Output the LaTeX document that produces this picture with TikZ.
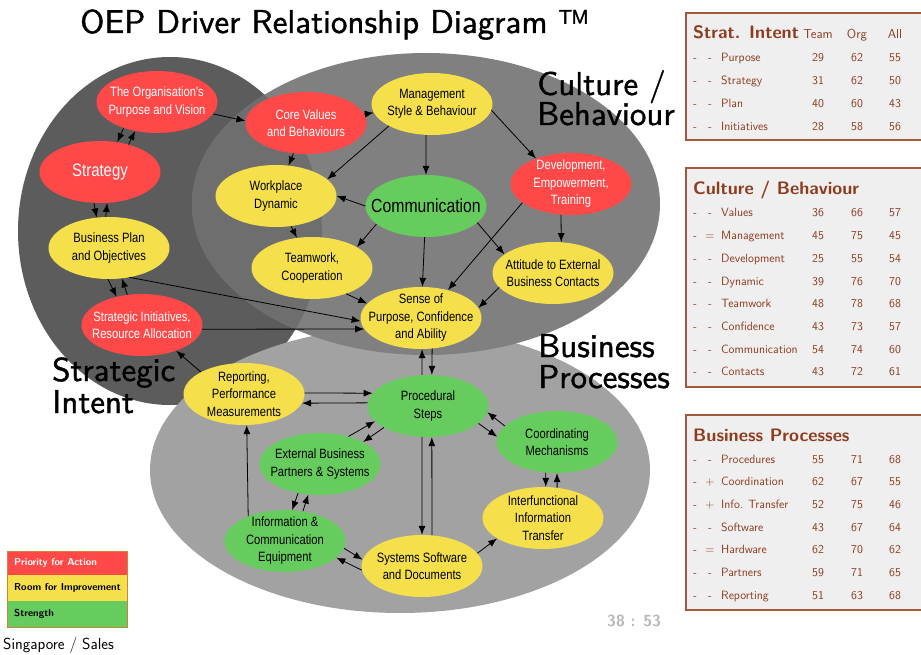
\documentclass[tikz,border=0pt]{standalone}
\usepackage{fontspec}
\newfontfamily\nodefont{Liberation Sans}[FakeStretch=0.83]
\newfontfamily\headfont{lmsans10-regular.otf}[FakeBold=1.2]
\usetikzlibrary{arrows.meta,shapes.geometric,positioning}

\definecolor{prioRed}{HTML}{FF4848}
\definecolor{roomYellow}{HTML}{F5E04C}
\definecolor{strongGreen}{HTML}{66CC5E}
\definecolor{intentGray}{HTML}{5C5C5C}
\definecolor{cultureGray}{HTML}{808080}
\definecolor{mixGray}{HTML}{6E6E6E}
\definecolor{processGray}{HTML}{A2A2A2}
\definecolor{tabBrown}{HTML}{8E3B1E}
\definecolor{tabLine}{HTML}{A3593B}
\definecolor{tabFill}{HTML}{EFEFEF}
\definecolor{legLine}{HTML}{C8863C}

\begin{document}
\begin{tikzpicture}[x=1pt,y=-1pt,
    driver/.style={ellipse,minimum width=121pt,minimum height=62pt,
      inner xsep=-20pt,inner ysep=-4pt,align=center,
      font=\nodefont\fontsize{13.5}{17.5}\selectfont},
    prio/.style={driver,fill=prioRed,text=white},
    room/.style={driver,fill=roomYellow},
    strong/.style={driver,fill=strongGreen},
    >={Latex[length=9pt,width=7pt]},
    link/.style={->,line width=0.8pt},
    zone/.style={anchor=base west,inner sep=0pt,font=\headfont\fontsize{33}{33}\selectfont},
    panel/.style={draw=tabLine,line width=1.2pt,fill=tabFill},
    tabhead/.style={anchor=base west,inner sep=0pt,text=tabBrown,font=\sffamily\bfseries\fontsize{18}{20}\selectfont},
    tabcell/.style={anchor=base,inner sep=0pt,text=tabBrown,font=\sffamily\fontsize{12}{14}\selectfont},
    tabname/.style={tabcell,anchor=base west},
    legtext/.style={anchor=west,inner sep=0pt,font=\sffamily\bfseries\fontsize{10}{12}\selectfont}]

    \useasboundingbox (0,0) rectangle (921,655);
    \fill[white] (0,0) rectangle (921,655);

    % the three areas
    \fill[intentGray] (170,231) ellipse [x radius=152pt,y radius=174pt];
    \fill[processGray] (400,470) ellipse [x radius=250pt,y radius=143pt];
    \fill[cultureGray] (426,204) ellipse [x radius=234pt,y radius=151pt];
    \begin{scope}
        \clip (426,204) ellipse [x radius=234pt,y radius=151pt];
        \fill[mixGray] (170,231) ellipse [x radius=152pt,y radius=174pt];
    \end{scope}

    \node[zone] (title) at (80,33) {OEP Driver Relationship Diagram \texttrademark};
    \node[zone] (cultureA) at (537,95) {Culture /};
    \node[zone] (cultureB) at (537,125) {Behaviour};
    \node[zone] (businessA) at (538,357) {Business};
    \node[zone] (businessB) at (538,388) {Processes};
    \node[zone] (intentA) at (52,381) {Strategic};
    \node[zone] (intentB) at (52,413) {Intent};

    % drivers
    \node[prio] (purpose) at (157,102) {The Organisation's\\Purpose and Vision};
    \node[prio,font=\nodefont\fontsize{18}{20}\selectfont] (strategy) at (100,172) {Strategy};
    \node[room] (plan) at (109,248) {Business Plan\\and Objectives};
    \node[prio] (initiatives) at (142,325) {Strategic Initiatives,\\Resource Allocation};
    \node[prio] (values) at (306,123) {Core Values\\and Behaviours};
    \node[room] (mgmt) at (432,104) {Management\\Style \& Behaviour};
    \node[room] (dynamic) at (276,196) {Workplace\\Dynamic};
    \node[strong,font=\nodefont\fontsize{19}{21}\selectfont] (comm) at (426,206) {Communication};
    \node[prio] (devel) at (571,184) {Development,\\Empowerment,\\Training};
    \node[room] (team) at (312,268) {Teamwork,\\Cooperation};
    \node[room] (attitude) at (553,273) {Attitude to External\\Business Contacts};
    \node[room] (sense) at (421,318) {Sense of\\Purpose, Confidence\\and Ability};
    \node[room] (report) at (244,394) {Reporting,\\Performance\\Measurements};
    \node[strong] (proc) at (428,406) {Procedural\\Steps};
    \node[strong] (coord) at (557,442) {Coordinating\\Mechanisms};
    \node[strong] (partners) at (320,464) {External Business\\Partners \& Systems};
    \node[room] (transfer) at (543,518) {Interfunctional\\Information\\Transfer};
    \node[strong] (equip) at (285,541) {Information \&\\Communication\\Equipment};
    \node[room] (software) at (422,566) {Systems Software\\and Documents};

    % strategic intent
    \draw[link] (purpose.218) -- (strategy.60);
    \draw[link] (strategy.44) -- (purpose.233);
    \draw[link] (strategy.259) -- (plan.112);
    \draw[link] (plan.96) -- (strategy.283);
    \draw[link] (plan.268) -- (initiatives.132);
    \draw[link] (initiatives.116) -- (plan.293);
    \draw[link] (purpose.348) -- (values.178);
    \draw[link] (plan.305) -- (sense.183);
    \draw[link] (initiatives.356) -- (sense.191);
    \draw[link] (report.153) -- (initiatives.323);
    % culture / behaviour
    \draw[link] (values) -- (mgmt);
    \draw[link] (values) -- (dynamic);
    \draw[link] (mgmt.207) -- (dynamic.18);
    \draw[link] (mgmt.259) -- (comm.north);
    \draw[link] (mgmt.354) -- (devel.144);
    \draw[link] (comm.west) -- (dynamic.east);
    \draw[link] (dynamic) -- (team);
    \draw[link] (comm.200) -- (team.25);
    \draw[link] (comm) -- (sense);
    \draw[link] (comm.342) -- (attitude.159);
    \draw[link] (devel.201) -- (sense.46);
    \draw[link] (devel.252) -- (attitude.75);
    \draw[link] (attitude.195) -- (sense.10);
    \draw[link] (team.323) -- (sense.165);
    % business processes
    \draw[link] (proc.101) -- (sense.272);
    \draw[link] (sense.290) -- (proc.83);
    \draw[link] (report.1) -- (proc.167);
    \draw[link] (proc.177) -- (report.351);
    \draw[link] (partners.44) -- (proc.196);
    \draw[link] (proc.206) -- (partners.27);
    \draw[link] (coord.163) -- (proc.354);
    \draw[link] (proc.341) -- (coord.175);
    \draw[link] (coord.250) -- (transfer.85);
    \draw[link] (transfer.65) -- (coord.south);
    \draw[link] (software.13) -- (transfer.204);
    \draw[link] (proc.259) -- (software.north);
    \draw[link] (software.72) -- (proc.277);
    \draw[link] (partners.233) -- (equip.77);
    \draw[link] (equip.59) -- (partners.249);
    \draw[link] (equip.353) -- (software.174);
    \draw[link] (software.184) -- (equip.342);
    \draw[link] (equip.146) -- (report.275);

    % score tables
    \draw[panel] (686,13) rectangle (935,140);
    \node[tabhead] (intenthead) at (693,39) {Strat. Intent};
    \node[tabcell,font=\sffamily\fontsize{13}{15}\selectfont] (teamhead) at (818,39) {Team};
    \node[tabcell,font=\sffamily\fontsize{13}{15}\selectfont] (orghead) at (857,39) {Org};
    \node[tabcell,font=\sffamily\fontsize{13}{15}\selectfont] (allhead) at (895,39) {All};
    \foreach \signA/\signB/\rowname/\vteam/\vorg/\vall [count=\i] in
        {-/-/Purpose/29/62/55, -/-/Strategy/31/62/50, -/-/Plan/40/60/43, -/-/Initiatives/28/58/56}{
        \node[tabcell] (si-\i-a) at (695,{62+(\i-1)*22.67}) {\signA};
        \node[tabcell] (si-\i-b) at (710,{62+(\i-1)*22.67}) {\signB};
        \node[tabname] (si-\i-n) at (721,{62+(\i-1)*22.67}) {\rowname};
        \node[tabcell] (si-\i-t) at (818,{62+(\i-1)*22.67}) {\vteam};
        \node[tabcell] (si-\i-o) at (857,{62+(\i-1)*22.67}) {\vorg};
        \node[tabcell] (si-\i-l) at (895,{62+(\i-1)*22.67}) {\vall};
    }

    \draw[panel] (686,168) rectangle (935,387);
    \node[tabhead] (culturehead) at (693,195) {Culture / Behaviour};
    \foreach \signA/\signB/\rowname/\vteam/\vorg/\vall [count=\i] in
        {-/-/Values/36/66/57, -/=/Management/45/75/45, -/-/Development/25/55/54,
         -/-/Dynamic/39/76/70, -/-/Teamwork/48/78/68, -/-/Confidence/43/73/57,
         -/-/Communication/54/74/60, -/-/Contacts/43/72/61}{
        \node[tabcell] (cb-\i-a) at (695,{217+(\i-1)*22.67}) {\signA};
        \node[tabcell] (cb-\i-b) at (710,{217+(\i-1)*22.67}) {\signB};
        \node[tabname] (cb-\i-n) at (721,{217+(\i-1)*22.67}) {\rowname};
        \node[tabcell] (cb-\i-t) at (818,{217+(\i-1)*22.67}) {\vteam};
        \node[tabcell] (cb-\i-o) at (857,{217+(\i-1)*22.67}) {\vorg};
        \node[tabcell] (cb-\i-l) at (895,{217+(\i-1)*22.67}) {\vall};
    }

    \draw[panel] (686,415) rectangle (935,610);
    \node[tabhead] (processhead) at (693,441) {Business Processes};
    \foreach \signA/\signB/\rowname/\vteam/\vorg/\vall [count=\i] in
        {-/-/Procedures/55/71/68, -/+/Coordination/62/67/55, -/+/Info. Transfer/52/75/46,
         -/-/Software/43/67/64, -/=/Hardware/62/70/62, -/-/Partners/59/71/65,
         -/-/Reporting/51/63/68}{
        \node[tabcell] (bp-\i-a) at (695,{463+(\i-1)*22.67}) {\signA};
        \node[tabcell] (bp-\i-b) at (710,{463+(\i-1)*22.67}) {\signB};
        \node[tabname] (bp-\i-n) at (721,{463+(\i-1)*22.67}) {\rowname};
        \node[tabcell] (bp-\i-t) at (818,{463+(\i-1)*22.67}) {\vteam};
        \node[tabcell] (bp-\i-o) at (857,{463+(\i-1)*22.67}) {\vorg};
        \node[tabcell] (bp-\i-l) at (895,{463+(\i-1)*22.67}) {\vall};
    }

    % legend
    \fill[prioRed] (7,551) rectangle (127,575);
    \fill[roomYellow] (7,575) rectangle (127,601);
    \fill[strongGreen] (7,601) rectangle (127,627);
    \draw[legLine,line width=0.8pt] (7,551) rectangle (127,627);
    \node[legtext,text=white] (legprio) at (14,563) {Priority for Action};
    \node[legtext] (legroom) at (14,588) {Room for Improvement};
    \node[legtext] (legstrong) at (14,614) {Strength};
    \node[anchor=base west,inner sep=0pt,font=\sffamily\fontsize{16}{18}\selectfont] (place) at (3,649) {Singapore / Sales};
    \node[anchor=base west,inner sep=0pt,text=black!28,font=\sffamily\bfseries\fontsize{16}{18}\selectfont] (score) at (607,626) {38 : 53};
\end{tikzpicture}
\end{document}
